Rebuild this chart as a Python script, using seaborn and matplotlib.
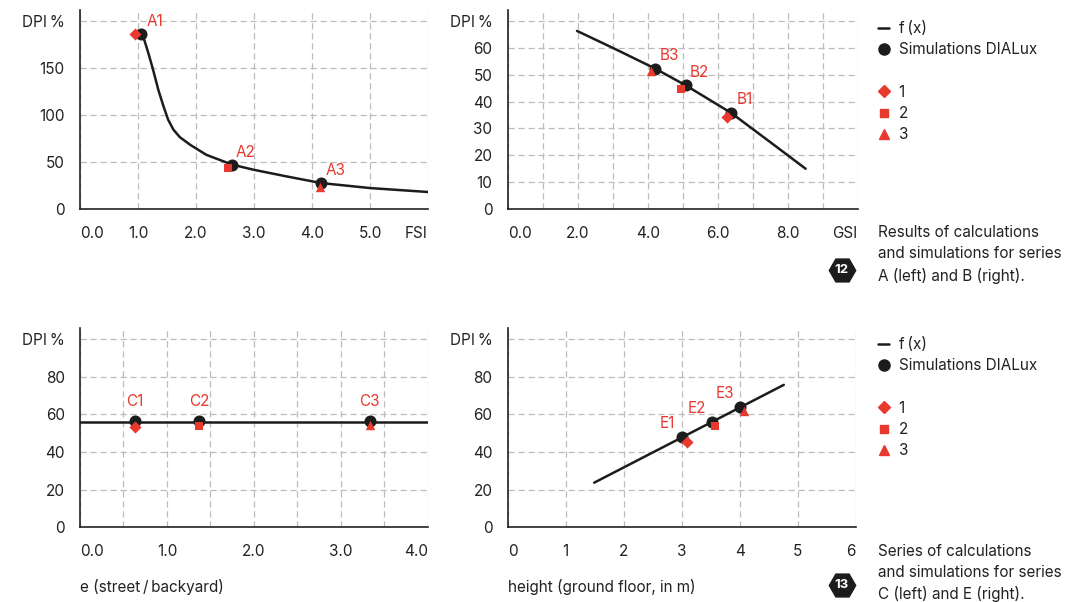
import matplotlib.pyplot as plt
import seaborn as sns
from matplotlib.lines import Line2D

# --- data ---
# series A (FSI)
a_fx_x = [1.09, 1.18, 1.26, 1.35, 1.44, 1.52, 1.61, 1.72, 1.90, 2.18, 2.62, 2.99, 3.56, 4.16, 5.0, 6.0]
a_fx_y = [183.5, 165.6, 148.2, 126.9, 109.2, 95.0, 84.5, 76.5, 68.3, 57.6, 47.3, 41.8, 34.7, 27.6, 22.3, 18.1]
a_sim_x = [1.06, 2.62, 4.16]
a_sim_y = [185.8, 47.3, 27.6]
a_red_x = [0.95, 2.55, 4.14]
a_red_y = [186.0, 43.5, 23.0]
a_names = ["A1", "A2", "A3"]

# series B (GSI)
b_fx_x = [1.98, 3.0, 4.21, 5.09, 6.38, 7.5, 8.51]
b_fx_y = [66.3, 60.0, 52.3, 46.0, 35.8, 24.9, 15.0]
b_sim_x = [6.38, 5.09, 4.21]
b_sim_y = [35.8, 46.0, 52.3]
b_red_x = [6.26, 4.95, 4.10]
b_red_y = [34.3, 44.8, 51.3]
b_names = ["B1", "B2", "B3"]

# series C (e street/backyard)
c_fx_x = [0.0, 4.0]
c_fx_y = [56.2, 56.2]
c_sim_x = [0.63, 1.37, 3.33]
c_sim_y = [56.5, 56.5, 56.5]
c_red_x = [0.63, 1.37, 3.33]
c_red_y = [53.5, 54.0, 54.4]
c_names = ["C1", "C2", "C3"]

# series E (height of ground floor)
e_fx_x = [1.49, 4.76]
e_fx_y = [23.7, 75.7]
e_sim_x = [3.01, 3.52, 4.0]
e_sim_y = [47.9, 55.8, 63.8]
e_red_x = [3.09, 3.58, 4.08]
e_red_y = [45.5, 53.9, 62.0]
e_names = ["E1", "E2", "E3"]

red_markers = ["D", "s", "^"]
red_sizes = [38, 36, 46]

RED = "#e8392f"
BLACK = "#1c1c1c"
TXT = "#222222"
GRID = "#bcbcbc"
FS = 11
DPI_LBL = "DPI\u2009%"

sns.set_theme(style="white")
plt.rcParams['font.family'] = ['Inter', 'DejaVu Sans']
plt.rcParams['font.size'] = FS
plt.rcParams['text.color'] = TXT

fig = plt.figure(figsize=(10.81, 6.02), dpi=100)
axA = fig.add_axes([0.074, 0.6528, 0.3219, 0.3306])
axB = fig.add_axes([0.4697, 0.6528, 0.3238, 0.3306])
axC = fig.add_axes([0.074, 0.1241, 0.3219, 0.331])
axE = fig.add_axes([0.4697, 0.1241, 0.3219, 0.331])


def panel(ax, fx_x, fx_y, sim_x, sim_y, red_x, red_y, names, off):
    sns.lineplot(x=fx_x, y=fx_y, ax=ax, color=BLACK, lw=1.8, sort=False, zorder=3)
    sns.scatterplot(x=sim_x, y=sim_y, ax=ax, color=BLACK, s=75, linewidth=0, zorder=4)
    for i in range(3):
        sns.scatterplot(x=[red_x[i]], y=[red_y[i]], ax=ax, color=RED, marker=red_markers[i],
                        s=red_sizes[i], linewidth=0, zorder=5)
        ax.annotate(names[i], (sim_x[i], sim_y[i]), xytext=off, textcoords='offset points',
                    ha='center', va='center', color=RED, fontsize=FS)


def style(ax, xlim, xticks, xlabels, ylim, yticks, ylabels):
    ax.set_xlim(*xlim)
    ax.set_ylim(*ylim)
    ax.set_xticks(xticks)
    ax.set_xticklabels(xlabels)
    ax.set_yticks(yticks)
    ax.set_yticklabels(ylabels)
    ax.grid(True, color=GRID, lw=0.9, linestyle=(0, (5, 3)))
    ax.set_axisbelow(True)
    for s in ['top', 'right']:
        ax.spines[s].set_visible(False)
    for s in ['left', 'bottom']:
        ax.spines[s].set_color(TXT)
        ax.spines[s].set_linewidth(1.2)
    ax.tick_params(length=0, labelsize=FS, colors=TXT)
    ax.tick_params(axis='x', pad=12)
    ax.tick_params(axis='y', pad=11)
    lab = ax.get_xticklabels()
    lab[0].set_ha('left')
    lab[-1].set_ha('right')
    ax.set_xlabel('')
    ax.set_ylabel('')


panel(axA, a_fx_x, a_fx_y, a_sim_x, a_sim_y, a_red_x, a_red_y, a_names, (10, 9))
style(axA, (0, 6), range(7), ["0.0", "1.0", "2.0", "3.0", "4.0", "5.0", "FSI"],
      (0, 211.7), [0, 50, 100, 150, 200], ["0", "50", "100", "150", DPI_LBL])

panel(axB, b_fx_x, b_fx_y, b_sim_x, b_sim_y, b_red_x, b_red_y, b_names, (10, 9.5))
style(axB, (0, 10), range(11),
      ["0.0", "", "2.0", "", "4.0", "", "6.0", "", "8.0", "", "GSI"],
      (0, 74.1), range(0, 80, 10), ["0", "10", "20", "30", "40", "50", "60", DPI_LBL])

panel(axC, c_fx_x, c_fx_y, c_sim_x, c_sim_y, c_red_x, c_red_y, c_names, (0, 14))
style(axC, (0, 4), [i * 0.5 for i in range(9)],
      ["0.0", "", "1.0", "", "2.0", "", "3.0", "", "4.0"],
      (0, 105.9), range(0, 120, 20), ["0", "20", "40", "60", "80", DPI_LBL])

panel(axE, e_fx_x, e_fx_y, e_sim_x, e_sim_y, e_red_x, e_red_y, e_names, (-11, 10))
style(axE, (0, 6), range(7), ["0", "1", "2", "3", "4", "5", "6"],
      (0, 105.9), range(0, 120, 20), ["0", "20", "40", "60", "80", DPI_LBL])

# x axis titles for the lower panels
fig.text(80 / 1081, 1 - 586.7 / 602, "e (street\u2009/\u2009backyard)", ha='left', va='center', fontsize=FS)
fig.text(507.7 / 1081, 1 - 586.7 / 602, "height (ground floor, in m)", ha='left', va='center', fontsize=FS)


def legend(top):
    handles = [
        Line2D([], [], color=BLACK, lw=1.8),
        Line2D([], [], color=BLACK, marker='o', ls='', markersize=8),
        Line2D([], [], ls='', marker=''),
        Line2D([], [], color=RED, marker='D', ls='', markersize=6),
        Line2D([], [], color=RED, marker='s', ls='', markersize=6),
        Line2D([], [], color=RED, marker='^', ls='', markersize=7.5),
    ]
    labels = ["f\u2009(x)", "Simulations DIALux", " ", "1", "2", "3"]
    fig.legend(handles, labels, loc='upper left', bbox_to_anchor=(878 / 1081, 1 - top / 602),
               frameon=False, handlelength=0.75, handletextpad=0.6, labelspacing=0.41,
               fontsize=FS, borderaxespad=0, borderpad=0)


legend(21)
legend(337)

fig.text(878 / 1081, 1 - 225 / 602,
         "Results of calculations\nand simulations for series\nA (left) and B (right).",
         ha='left', va='top', fontsize=FS, linespacing=1.5)
fig.text(878 / 1081, 1 - 544 / 602,
         "Series of calculations\nand simulations for series\nC (left) and E (right).",
         ha='left', va='top', fontsize=FS, linespacing=1.5)

# hexagon figure badges
for num, yy in [("12", 270), ("13", 585)]:
    fig.add_artist(Line2D([841.7 / 1081], [1 - yy / 602], marker='H', markersize=19,
                          color=BLACK, transform=fig.transFigure))
    fig.text(841.7 / 1081, 1 - yy / 602, num, color='white', fontsize=9.5,
             fontweight='bold', ha='center', va='center')

fig.savefig('out.png', dpi=100)
